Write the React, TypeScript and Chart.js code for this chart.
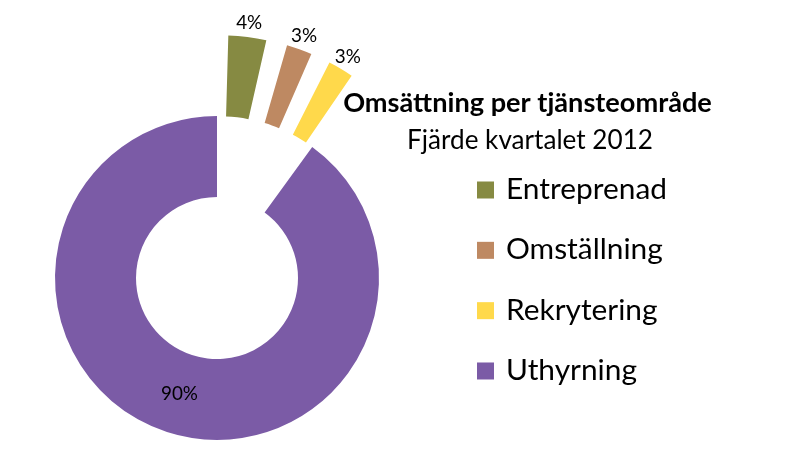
import { useEffect, useRef } from "react";
import { Chart, registerables } from "chart.js";

Chart.register(...registerables);

const categories = ["Entreprenad", "Omställning", "Rekrytering", "Uthyrning"];
const shares = [4, 3, 3, 90];
const percentLabels = ["4%", "3%", "3%", "90%"];
const sliceColors = ["#868A42", "#BE8962", "#FFD94B", "#7B5BA6"];
const explodeOffsets = [185, 179, 179, 0];
const titleText = "Omsättning per tjänsteområde";
const subtitleText = "Fjärde kvartalet 2012";

const FONT = "Lato, 'Open Sans', sans-serif";

function fitSize(ctx: CanvasRenderingContext2D, text: string, weight: string, target: number) {
  ctx.font = `${weight} 100px ${FONT}`;
  const w = ctx.measureText(text).width;
  return (100 * target) / w;
}

const overlayPlugin = {
  id: "overlay",
  afterDatasetsDraw(chart: any) {
    const ctx: CanvasRenderingContext2D = chart.ctx;
    ctx.save();
    const meta = chart.getDatasetMeta(0);

    // data labels
    const ls = fitSize(ctx, "90%", "normal", 37);
    ctx.font = `normal ${ls}px ${FONT}`;
    ctx.textAlign = "center";
    ctx.textBaseline = "middle";
    ctx.fillStyle = "#000";
    meta.data.forEach((arc: any, i: number) => {
      const p = arc.getProps(["x", "y", "startAngle", "endAngle", "innerRadius", "outerRadius", "circumference"], true);
      const off = arc.options.offset || 0;
      const mid = (p.startAngle + p.endAngle) / 2;
      let cx = p.x;
      let cy = p.y;
      let r: number;
      if (off > 0) {
        const fix = 1 - Math.sin(Math.min(Math.PI, p.circumference || 0));
        cx = p.x + (Math.cos(mid) * off) / 4;
        cy = p.y + (Math.sin(mid) * off) / 4;
        r = p.outerRadius + (off / 4) * fix + 14;
      } else {
        r = (p.innerRadius + p.outerRadius) / 2;
      }
      ctx.fillText(percentLabels[i], cx + Math.cos(mid) * r, cy + Math.sin(mid) * r);
    });

    // title
    ctx.textBaseline = "alphabetic";
    const ts = fitSize(ctx, titleText, "bold", 369);
    ctx.font = `bold ${ts}px ${FONT}`;
    ctx.fillText(titleText, 527.5, 112);
    const ss = fitSize(ctx, subtitleText, "normal", 246);
    ctx.font = `normal ${ss}px ${FONT}`;
    ctx.fillText(subtitleText, 530, 149);

    // legend
    const gs = fitSize(ctx, categories[0], "normal", 161);
    ctx.font = `normal ${gs}px ${FONT}`;
    ctx.textAlign = "left";
    categories.forEach((c, i) => {
      const yc = 190 + i * 60.33;
      ctx.fillStyle = sliceColors[i];
      ctx.fillRect(477, yc - 8.5, 17, 17);
      ctx.fillStyle = "#000";
      ctx.fillText(c, 506, yc + 9);
    });
    ctx.restore();
  },
};

export default function App() {
  const ref = useRef<HTMLCanvasElement | null>(null);
  useEffect(() => {
    if (!ref.current) return;
    const chart = new Chart(ref.current, {
      type: "doughnut",
      data: {
        labels: categories,
        datasets: [
          {
            data: shares,
            backgroundColor: sliceColors,
            borderWidth: 0,
            offset: explodeOffsets,
            hoverOffset: 0,
          },
        ],
      },
      options: {
        animation: false,
        responsive: false,
        radius: 162,
        cutout: "50%",
        events: [],
        layout: { padding: { left: 0, right: 376, top: 80, bottom: 0 } },
        plugins: {
          legend: { display: false },
          title: { display: false },
          tooltip: { enabled: false },
        },
      } as any,
      plugins: [overlayPlugin],
    });
    return () => chart.destroy();
  }, []);
  return (
    <div style={{ position: "fixed", left: 0, top: 0, width: 810, height: 476, background: "#fff" }}>
      <canvas ref={ref} width={810} height={476} style={{ display: "block" }} />
    </div>
  );
}
